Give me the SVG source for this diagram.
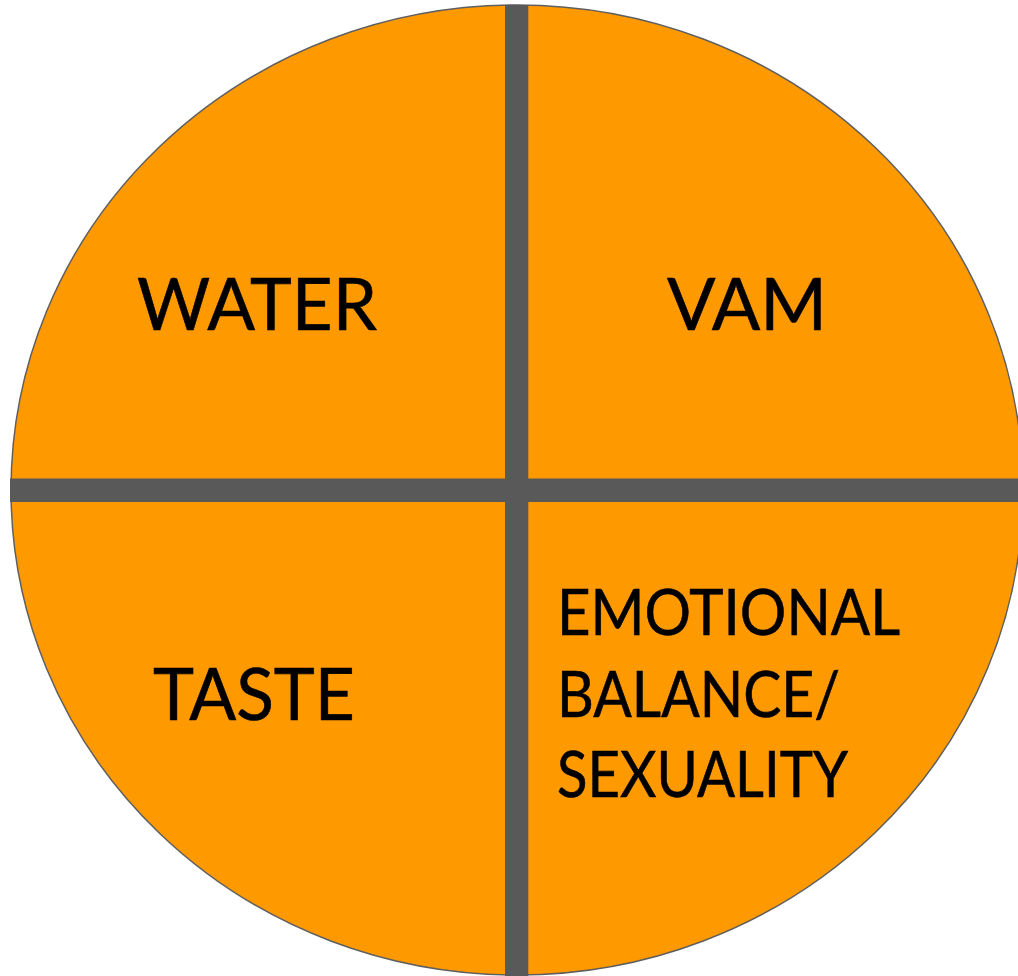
<svg xmlns="http://www.w3.org/2000/svg" width="1018" height="976" viewBox="0 0 1018 976">
<style>
.lbl{font-family:Lato,"Open Sans","Liberation Sans",sans-serif;fill:#000;stroke:#000;stroke-width:0.6;}
.big{font-size:72px;}
.sm{font-size:63px;}
.bar{fill:#595959;}
</style>
<rect width="1018" height="976" fill="#fff"/>
<g id="circle">
<ellipse cx="517" cy="490" rx="506" ry="485" fill="#FF9900" stroke="#5f5f5f" stroke-width="1.5"/>
</g>
<g id="dividers">
<rect class="bar" x="10" y="478.5" width="1015" height="23.5"/>
<rect class="bar" x="505" y="5" width="23.3" height="975"/>
</g>
<g id="water"><text class="lbl big" x="137" y="330" textLength="240" lengthAdjust="spacingAndGlyphs">WATER</text></g>
<g id="vam"><text class="lbl big" x="667" y="330" textLength="160" lengthAdjust="spacingAndGlyphs">VAM</text></g>
<g id="taste"><text class="lbl big" x="153" y="720" textLength="202" lengthAdjust="spacingAndGlyphs">TASTE</text></g>
<g id="emotional">
<text class="lbl sm" x="557" y="635" textLength="343" lengthAdjust="spacingAndGlyphs">EMOTIONAL</text>
<text class="lbl sm" x="557" y="717" textLength="283" lengthAdjust="spacingAndGlyphs">BALANCE/</text>
<text class="lbl sm" x="557" y="797" textLength="291" lengthAdjust="spacingAndGlyphs">SEXUALITY</text>
</g>
</svg>
